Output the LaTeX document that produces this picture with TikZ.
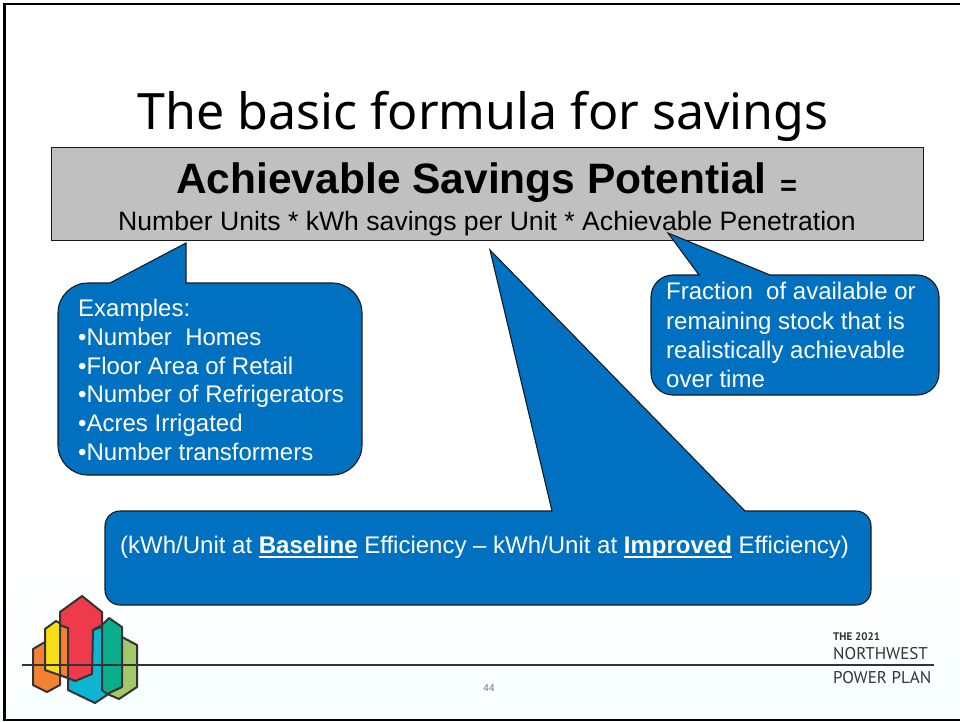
\documentclass[tikz,border=0pt]{standalone}
\usepackage{fontspec}
\setmainfont{Liberation Sans}
\newfontfamily\titlefont{Noto Sans}
\newfontfamily\ptfont{PT Sans}
\definecolor{calloutblue}{HTML}{0070C0}
\definecolor{boxgray}{HTML}{C0C0C0}
\definecolor{edgedark}{HTML}{1A1A1A}
\definecolor{logoline}{HTML}{333333}
\definecolor{lorange}{HTML}{F58233}
\definecolor{lyellow}{HTML}{F9DD16}
\definecolor{lred}{HTML}{EF3A4C}
\definecolor{lblue}{HTML}{0DB5D2}
\definecolor{lgreen}{HTML}{0BAE8A}
\definecolor{llime}{HTML}{A2C86B}
\newcommand{\thickul}[1]{\setbox0=\hbox{#1}\rlap{\rule[-5pt]{\wd0}{2.2pt}}\box0{}}
\tikzset{
  callout/.style={fill=calloutblue,draw=edgedark,line width=1.1pt,line join=miter},
  whitetext/.style={text=white,inner sep=0pt,align=left},
  logopart/.style={draw=logoline,line width=2pt,line join=round},
  plan/.style={text=logoline,inner sep=0pt,anchor=base west},
}
\begin{document}
\begin{tikzpicture}[x=1pt,y=-1pt]
\useasboundingbox (0,0) rectangle (960,721);
\fill[white] (0,0) rectangle (960,721);
\shade[top color=white,bottom color=blue!2!cyan!3!white] (0,560) rectangle (960,721);
\draw[black,line width=2.6pt] (960,4) -- (4.5,4) -- (4.5,720) -- (960,720);
% title
\node[inner sep=0pt,anchor=base] (title) at (483,129) {\titlefont\fontsize{50.1}{60}\selectfont The basic formula for savings};
% grey box
\node[draw=edgedark,line width=1pt,fill=boxgray,minimum width=872pt,minimum height=93pt,inner sep=0pt,anchor=north west] (formula) at (51,147) {};
\node[inner sep=0pt,anchor=base] (head) at (471.5,193) {\fontsize{42.5}{50}\selectfont\bfseries Achievable Savings Potential};
\node[inner sep=0pt,anchor=base] (equals) at (788.5,195) {\fontsize{29}{32}\selectfont\bfseries =};
\node[inner sep=0pt,anchor=base] (sub) at (487,230) {\fontsize{26.6}{30}\selectfont Number Units * kWh savings per Unit * Achievable Penetration};
% left callout
\draw[callout] (186,243) -- (186,283) -- (332,283) arc[start angle=-90,end angle=0,radius=30] -- (362,445) arc[start angle=0,end angle=90,radius=30] -- (88,475) arc[start angle=90,end angle=180,radius=30] -- (58,313) arc[start angle=180,end angle=270,radius=30] -- (110,283) -- cycle;
\node[whitetext,anchor=north west,font=\fontsize{24}{28.7}\selectfont] (examples) at (78,299) {Examples:\\•Number\ \ Homes\\•Floor Area of Retail\\•Number of Refrigerators\\•Acres Irrigated\\•Number transformers};
% right callout
\draw[callout] (668,233) -- (770,275) -- (917,275) arc[start angle=-90,end angle=0,radius=22] -- (939,373) arc[start angle=0,end angle=90,radius=22] -- (673,395) arc[start angle=90,end angle=180,radius=22] -- (651,297) arc[start angle=180,end angle=270,radius=22] -- (699,275) -- cycle;
\node[whitetext,anchor=north west,font=\fontsize{24}{29.4}\selectfont] (fraction) at (666,282) {Fraction\ \ of available or\\remaining stock that is\\realistically achievable\\over time};
% bottom callout
\draw[callout] (490,250) -- (745,511) -- (856,511) arc[start angle=-90,end angle=0,radius=15] -- (871,590) arc[start angle=0,end angle=90,radius=15] -- (120,605) arc[start angle=90,end angle=180,radius=15] -- (105,526) arc[start angle=180,end angle=270,radius=15] -- (552,511) -- cycle;
\node[whitetext,anchor=base west,font=\fontsize{24}{28.8}\selectfont] (baseline) at (120,553) {(kWh/Unit at \thickul{\textbf{Baseline}} Efficiency – kWh/Unit at \thickul{\textbf{Improved}} Efficiency)};
% page number
\node[inner sep=0pt,text=black!55,font=\fontsize{10}{12}\selectfont] (page) at (489,688) {44};
% logo
\coordinate (lineL) at (22,665);
\coordinate (lineR) at (934,665);
\draw[logopart,fill=lorange] (33,649) -- (45,642) -- (60,640) -- (60,680) -- (60,685) -- (47,692) -- (33,685) -- cycle;
\draw[logopart,fill=llime] (122,637) -- (137,645) -- (137,687) -- (119,699) -- (105,693) -- (105,640) -- cycle;
\draw[logopart,fill=lblue] (68,678) -- (68,690) -- (95,703) -- (107,695) -- (107,625) -- (93,630) -- (80,660) -- cycle;
\draw[logopart,fill=lyellow] (45,629) -- (56,621) -- (68,628) -- (68,678) -- (45,670) -- cycle;
\draw[logopart,fill=lorange] (60,625) -- (68,628) -- (68,678) -- (60,675) -- cycle;
\draw[logopart,fill=lred] (60,612) -- (82,596) -- (102,612) -- (102,625) -- (93,630) -- (92,674) -- (75,681) -- (68,678) -- (68,628) -- (60,625) -- cycle;
\draw[logopart,fill=lgreen] (102,625) -- (109,618) -- (122,627) -- (122,687) -- (107,694) -- (102,690) -- cycle;
\draw[logoline,line width=2.6pt] (lineL) -- (lineR);
% plan wordmark
\node[plan,font=\ptfont\bfseries\fontsize{11}{12}\selectfont] (the) at (833,640) {THE 2021};
\node[plan,font=\ptfont\fontsize{17}{20}\selectfont] (nw) at (833,659) {NORTHWEST};
\node[plan,font=\ptfont\fontsize{17}{20}\selectfont] (pp) at (833,683) {POWER PLAN};
\end{tikzpicture}
\end{document}
